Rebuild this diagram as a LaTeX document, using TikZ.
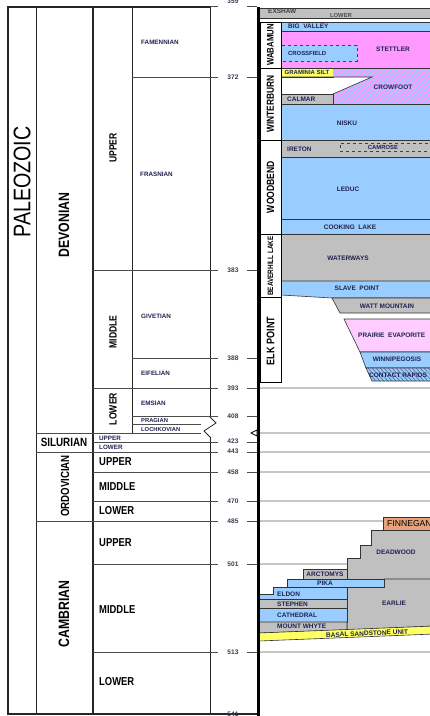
\documentclass[tikz,border=0pt]{standalone}
\usepackage{fontspec}
\setmainfont{Liberation Sans}
\newfontfamily\nar[FakeStretch=0.82]{Liberation Sans}
\definecolor{fblue}{HTML}{99CCFF}
\definecolor{fpink}{HTML}{FF99FF}
\definecolor{fgray}{HTML}{C0C0C0}
\definecolor{fyel}{HTML}{FFFF66}
\definecolor{flpink}{HTML}{FFCCFF}
\definecolor{forange}{HTML}{E6A27A}
\definecolor{navy}{HTML}{1F2350}
\definecolor{numc}{HTML}{3A3A50}
\definecolor{dyel}{HTML}{E0E000}
\tikzset{
  ln/.style={draw=black!85, line width=0.8pt},
  tk/.style={draw=black!70, line width=0.9pt},
  gl/.style={draw=black!22, line width=1.2pt},
  fm/.style={draw=black!80, line width=0.6pt},
  num/.style={font=\bfseries\fontsize{6.6}{7}\selectfont, text=numc, inner sep=0},
  stg/.style={font=\bfseries\fontsize{6.3}{7}\selectfont, text=navy, inner sep=0},
  flab/.style={font=\bfseries\fontsize{6.5}{7}\selectfont, text=navy, inner sep=0},
  ep/.style={font=\nar\bfseries\fontsize{11.5}{12}\selectfont, inner sep=0},
  epv/.style={font=\nar\bfseries\fontsize{10.5}{11}\selectfont, inner sep=0, rotate=90},
  per/.style={font=\nar\bfseries\fontsize{15}{16}\selectfont, inner sep=0, rotate=90},
  grp/.style={font=\nar\bfseries\fontsize{10.2}{11}\selectfont, inner sep=0, rotate=90},
  grpbox/.style={fill=white, draw=black, line width=0.7pt},
}
\begin{document}
\begin{tikzpicture}[x=1pt,y=-1pt]
\useasboundingbox (0,0) rectangle (430,716);

% ---------- left time scale ----------
\draw[ln, line width=1.5pt] (210,7) -- (8,7) -- (8,714) -- (258,714);
\draw[ln] (36,7) -- (36,714);
\draw[ln, line width=1.1pt] (93,7) -- (93,714);
\draw[ln] (132,7) -- (132,433);
\draw[ln] (210,7) -- (210,416);
\draw[ln] (210,438) -- (210,714);
\draw[ln] (209,416) -- (216,423) -- (204,431) -- (211,438);

\foreach \y in {77,358,416} \draw[tk] (132,\y) -- (218,\y);
\foreach \y in {270,388,442,472,501,564,652} \draw[tk] (93,\y) -- (218,\y);
\foreach \y in {452,521} \draw[tk] (36,\y) -- (218,\y);
\draw[tk] (132,424) -- (201,424);
\draw[tk] (36,433) -- (201,433);
\draw[tk] (210,6) -- (218,6);
\foreach \y in {6,77,270,358,388,416,442,452,472,501,521,564,652} \draw[tk] (247,\y) -- (257,\y);

\node[num] (t359) at (233,1) {359};
\node[num] (t372) at (233,77) {372};
\node[num] (t383) at (233,270) {383};
\node[num] (t388) at (233,358) {388};
\node[num] (t393) at (233,388) {393};
\node[num] (t408) at (233,416) {408};
\node[num] (t423) at (233,441) {423};
\node[num] (t443) at (233,451) {443};
\node[num] (t458) at (233,472) {458};
\node[num] (t470) at (233,501) {470};
\node[num] (t485) at (233,521) {485};
\node[num] (t501) at (233,564) {501};
\node[num] (t513) at (233,652) {513};
\node[num] (t541) at (233,714) {541};

\node[font=\nar\fontsize{24}{24}\selectfont, inner sep=0, rotate=90] (era) at (22,182) {PALEOZOIC};
\node[per] (dev) at (64,225) {DEVONIAN};
\node[font=\nar\bfseries\fontsize{12}{12}\selectfont, inner sep=0] (sil) at (64,442) {SILURIAN};
\node[per, font=\nar\bfseries\fontsize{11.8}{12}\selectfont] (ord) at (65,486) {ORDOVICIAN};
\node[per] (cam) at (64,614) {CAMBRIAN};

\node[epv] (dup) at (113,148) {UPPER};
\node[epv] (dmid) at (113,332) {MIDDLE};
\node[epv] (dlow) at (113,409) {LOWER};
\node[stg, anchor=west] (sup) at (99,438) {UPPER};
\node[stg, anchor=west] (slow) at (99,447.5) {LOWER};
\node[ep, anchor=west] (oup) at (99,462) {UPPER};
\node[ep, anchor=west] (omid) at (99,487) {MIDDLE};
\node[ep, anchor=west] (olow) at (99,511) {LOWER};
\node[ep, anchor=west] (cup) at (99,543) {UPPER};
\node[ep, anchor=west] (cmid) at (99,610) {MIDDLE};
\node[ep, anchor=west] (clow) at (99,682) {LOWER};

\node[stg, anchor=west] (fam) at (141,42) {FAMENNIAN};
\node[stg, anchor=west] (fra) at (140,174) {FRASNIAN};
\node[stg, anchor=west] (giv) at (141,316) {GIVETIAN};
\node[stg, anchor=west] (eif) at (141,373) {EIFELIAN};
\node[stg, anchor=west] (ems) at (141,403) {EMSIAN};
\node[stg, anchor=west, font=\bfseries\fontsize{5.8}{6}\selectfont] (pra) at (141,420) {PRAGIAN};
\node[stg, anchor=west, font=\bfseries\fontsize{5.8}{6}\selectfont] (loc) at (141,429) {LOCHKOVIAN};

% ---------- right panel ----------
\begin{scope}
\clip (259,0) rectangle (430,716);
\foreach \y in {388,433,452,472,501,652} \draw[gl] (260,\y) -- (432,\y);
\draw[gl] (260,521) -- (383,521);
\draw[gl] (260,564) -- (347,564);

% Exshaw
\filldraw[fill=fgray, fm] (259,8) rectangle (434,18);
\draw[dyel, dashed, line width=0.9pt] (311,17) -- (311,11) -- (434,11);
\node[flab, anchor=west, text=black!75] (exs) at (268,11.5) {EXSHAW};
\node[flab, font=\bfseries\fontsize{5.9}{6}\selectfont, text=black!70] (low) at (341,15.5) {LOWER};

% Wabamun
\filldraw[fill=fblue, fm] (281,22) rectangle (434,31);
\filldraw[fill=fpink, fm] (281,31) rectangle (434,68);
\filldraw[fill=fblue, draw=black!75, line width=0.9pt, dashed] (281,45) rectangle (357,61);
\draw[grpbox] (260,22) rectangle (281,68);
\node[grp, font=\nar\bfseries\fontsize{9.5}{10}\selectfont] (wab) at (270.5,45) {WABAMUN};
\node[flab, anchor=west] (bigv) at (288,26.5) {BIG\ \ VALLEY};
\node[flab] (stet) at (393,49) {STETTLER};
\node[flab, anchor=west, font=\bfseries\fontsize{5.9}{6}\selectfont] (cros) at (288,53) {CROSSFIELD};

% Winterburn
\filldraw[fill=fyel, fm] (281,68) rectangle (333,77);
\path[fill=fpink] (333,68) -- (434,68) -- (434,104) -- (333,104) -- (333,94) -- (372,77) -- (333,77) -- cycle;
\begin{scope}
\clip (333,68) -- (434,68) -- (434,104) -- (333,104) -- (333,94) -- (372,77) -- (333,77) -- cycle;
\foreach \i in {0,5.5,...,160} \draw[fblue, line width=1.7pt] ({290+\i},110) -- ({340+\i},60);
\end{scope}
\draw[fm] (333,68) -- (434,68);
\draw[fm] (333,104) -- (434,104);
\draw[fm] (281,77) -- (372,77) -- (333,94);
\filldraw[fill=fgray, fm] (281,94) rectangle (333,104);
\filldraw[fill=fblue, fm] (281,104) rectangle (434,140);
\draw[grpbox] (260,68) rectangle (281,140);
\node[grp] (win) at (270.5,104) {WINTERBURN};
\node[flab, font=\bfseries\fontsize{6}{6}\selectfont] (gram) at (307,72.5) {GRAMINIA\ SILT};
\node[flab] (crow) at (393,87) {CROWFOOT};
\node[flab, anchor=west] (calm) at (287,99.5) {CALMAR};
\node[flab] (nisk) at (347,123) {NISKU};

% Woodbend
\filldraw[fill=fgray, fm] (281,140) rectangle (434,157);
\draw[black!75, line width=0.9pt, dashed] (440,143) -- (340,143) -- (340,151) -- (440,151);
\filldraw[fill=fblue, fm] (281,157) rectangle (434,219);
\filldraw[fill=fblue, fm] (281,219) rectangle (434,234);
\draw[grpbox] (260,140) rectangle (281,234);
\node[grp, font=\nar\bfseries\fontsize{10.5}{11}\selectfont] (wood) at (270.5,187) {WOODBEND};
\node[flab, anchor=west] (iret) at (287,149.5) {IRETON};
\node[flab, font=\bfseries\fontsize{5.9}{6}\selectfont] (camr) at (383,147) {CAMROSE};
\node[flab] (ledu) at (348,189) {LEDUC};
\node[flab] (cook) at (350,227) {COOKING\ \ LAKE};

% Beaverhill Lake
\filldraw[fill=fgray, fm] (281,234) rectangle (434,281);
\filldraw[fill=fblue, fm] (281,281) -- (434,281) -- (434,298) -- (332,298) -- (281,295) -- cycle;
\draw[grpbox] (260,234) rectangle (281,297);
\node[grp, font=\nar\bfseries\fontsize{7.8}{8}\selectfont] (bhl) at (270.5,266) {BEAVERHILL LAKE};
\node[flab] (watw) at (348,258) {WATERWAYS};
\node[flab] (slav) at (357,288) {SLAVE\ \ POINT};

% Elk Point
\filldraw[fill=fgray, fm] (332,298) -- (434,298) -- (434,313) -- (340,313) -- cycle;
\filldraw[fill=flpink, fm] (344,319) -- (434,319) -- (434,352) -- (360,352) -- cycle;
\filldraw[fill=fblue, fm] (360,352) -- (434,352) -- (434,368) -- (366,368) -- cycle;
\filldraw[fill=fblue, fm] (366,368) -- (434,368) -- (434,381) -- (372,381) -- cycle;
\begin{scope}
\clip (366,368) -- (434,368) -- (434,381) -- (372,381) -- cycle;
\foreach \i in {0,4,...,90} \draw[navy!80, line width=0.4pt] ({350+\i},366) -- ({366+\i},383);
\end{scope}
\draw[grpbox] (260,297) rectangle (281,382);
\node[grp, font=\nar\bfseries\fontsize{11}{11}\selectfont] (elk) at (270.5,341) {ELK\ POINT};
\node[flab] (watt) at (387,306) {WATT\ MOUNTAIN};
\node[flab, anchor=west] (prai) at (358,335) {PRAIRIE\ \ EVAPORITE};
\node[flab] (winn) at (397,359) {WINNIPEGOSIS};
\node[flab, anchor=west] (cont) at (369,375) {CONTACT\ RAPIDS};

% Cambrian
\filldraw[fill=forange, fm] (383,517) rectangle (434,530);
\filldraw[fill=fgray, fm] (371,530) -- (434,530) -- (434,579) -- (347,579) -- (347,558) -- (360,558) -- (360,545) -- (371,545) -- cycle;
\filldraw[fill=fgray, fm] (347,587) -- (384,587) -- (384,579) -- (434,579) -- (434,626) -- (347,630) -- cycle;
\filldraw[fill=fgray, fm] (303,569) rectangle (347,579);
\filldraw[fill=fblue, fm] (287,579) rectangle (384,587);
\filldraw[fill=fblue, fm] (273,587) -- (347,587) -- (347,599) -- (259,599) -- (259,594) -- (273,594) -- cycle;
\filldraw[fill=fgray, fm] (259,599) rectangle (347,608);
\filldraw[fill=fblue, fm] (259,608) rectangle (347,622);
\filldraw[fill=fgray, fm] (259,622) -- (347,622) -- (347,630) -- (259,633) -- cycle;
\filldraw[fill=fyel, fm] (259,633) -- (434,626) -- (434,634) -- (259,641) -- cycle;
\node[font=\fontsize{8.6}{9}\selectfont, inner sep=0, anchor=west] (finn) at (387,523.5) {FINNEGAN};
\node[flab] (dead) at (396,552) {DEADWOOD};
\node[flab] (arct) at (325,574) {ARCTOMYS};
\node[flab] (pika) at (325,583) {PIKA};
\node[flab] (earl) at (394,603) {EARLIE};
\node[flab, anchor=west] (eldo) at (277,594) {ELDON};
\node[flab, anchor=west] (step) at (277,604) {STEPHEN};
\node[flab, anchor=west] (cath) at (277,615) {CATHEDRAL};
\node[flab, anchor=west] (mtw) at (277,626) {MOUNT\ WHYTE};
\node[flab, rotate=2.4] (basal) at (367,633.5) {BASAL\ SANDSTONE\ UNIT};
\end{scope}

% thick divider and marker
\draw[black, line width=3pt] (258.5,7) -- (258.5,716);
\filldraw[fill=white, draw=black, line width=0.8pt] (257,430) -- (251,433) -- (257,436) -- cycle;
\end{tikzpicture}
\end{document}
